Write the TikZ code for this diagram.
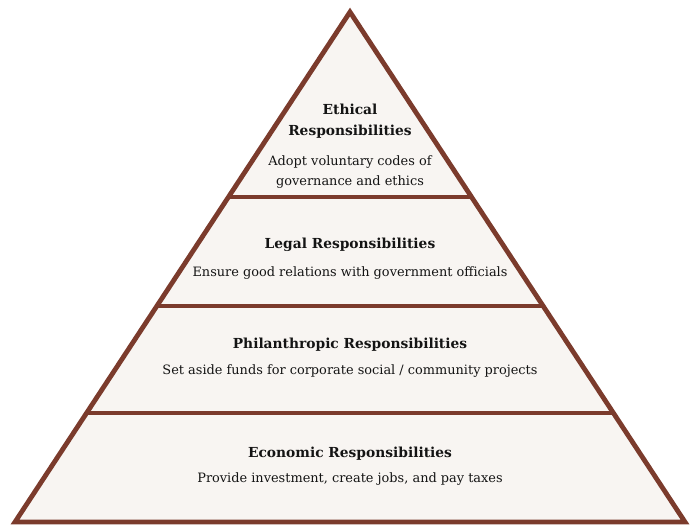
\documentclass[tikz,border=0pt]{standalone}
\usepackage{fontspec}
\setmainfont{DejaVu Serif}
\usetikzlibrary{calc}
\definecolor{pyrbrown}{RGB}{123,59,44}
\definecolor{pyrfill}{RGB}{248,245,242}
\definecolor{txt}{RGB}{20,20,20}
\begin{document}
\begin{tikzpicture}[x=1pt,y=1pt,
  title/.style={font=\fontsize{13.8}{21}\selectfont\bfseries, text=txt, align=center, inner sep=0},
  sub/.style={font=\fontsize{12.9}{19.5}\selectfont, text=txt, align=center, inner sep=0},
  edge/.style={draw=pyrbrown, line width=4.8pt}]
\useasboundingbox (0,0) rectangle (700,530);
\coordinate (apex) at (350,518);
\coordinate (bl) at (15,8);
\coordinate (br) at (685,8);
\filldraw[fill=pyrfill, draw=pyrbrown, line width=4.8pt, line join=miter] (apex) -- (br) -- (bl) -- cycle;
\coordinate (l1) at ($(apex)!0.3627!(bl)$);
\coordinate (r1) at ($(apex)!0.3627!(br)$);
\coordinate (l2) at ($(apex)!0.5765!(bl)$);
\coordinate (r2) at ($(apex)!0.5765!(br)$);
\coordinate (l3) at ($(apex)!0.7863!(bl)$);
\coordinate (r3) at ($(apex)!0.7863!(br)$);
\draw[edge] (l1) -- (r1);
\draw[edge] (l2) -- (r2);
\draw[edge] (l3) -- (r3);
\node[title] (t1) at (350,409) {Ethical\\Responsibilities};
\node[sub] (s1) at (350,358) {Adopt voluntary codes of\\governance and ethics};
\node[title] (t2) at (350,285) {Legal Responsibilities};
\node[sub] (s2) at (350,257) {Ensure good relations with government officials};
\node[title] (t3) at (350,185) {Philanthropic Responsibilities};
\node[sub] (s3) at (350,159) {Set aside funds for corporate social / community projects};
\node[title] (t4) at (350,76) {Economic Responsibilities};
\node[sub] (s4) at (350,51) {Provide investment, create jobs, and pay taxes};
\end{tikzpicture}
\end{document}
